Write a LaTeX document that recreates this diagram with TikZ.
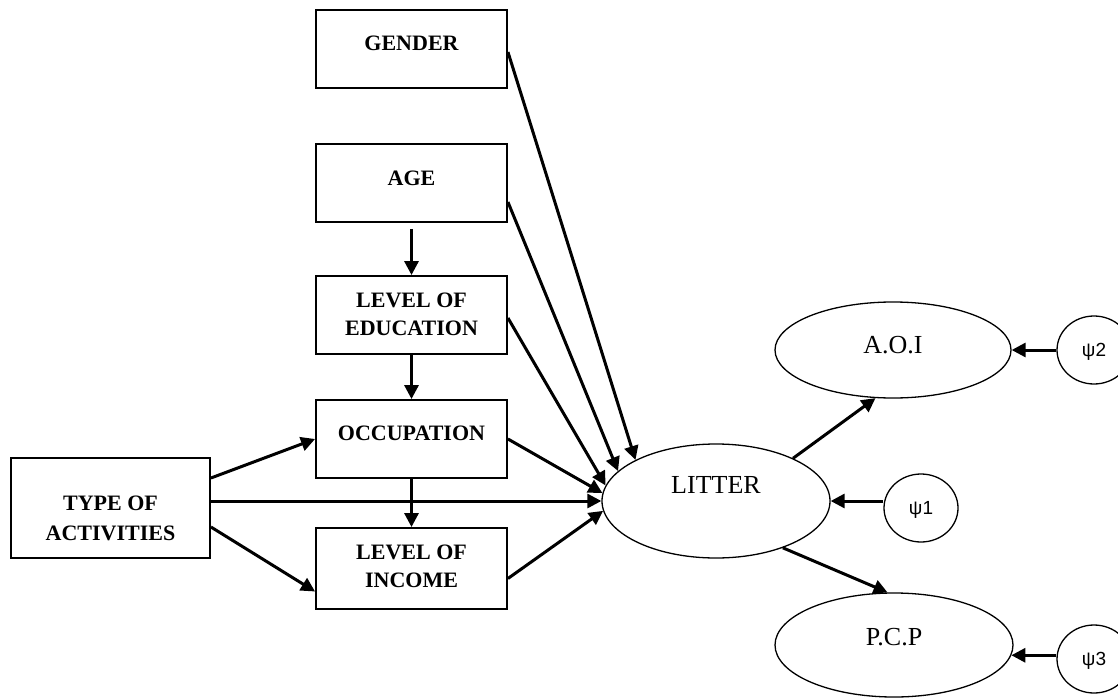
\documentclass[tikz,border=0pt]{standalone}
\usepackage{fontspec}
\setmainfont{Liberation Serif}
\newfontfamily\psifont{Liberation Sans}
\usetikzlibrary{arrows.meta,shapes.geometric,calc}
\begin{document}
\begin{tikzpicture}[x=1pt,y=-1pt,
  box/.style={draw, line width=1.9pt, minimum width=191pt, minimum height=78pt, inner sep=0pt},
  btext/.style={font=\fontsize{22}{28}\selectfont\bfseries, align=center, inner sep=0pt},
  ell/.style={draw, ellipse, line width=1.3pt, inner sep=0pt},
  etext/.style={font=\fontsize{26}{30}\selectfont, inner sep=0pt},
  err/.style={draw, ellipse, line width=1.3pt, minimum width=74pt, minimum height=68pt, inner sep=0pt},
  ptext/.style={font=\psifont\fontsize{19}{22}\selectfont, inner sep=0pt},
  arr/.style={-{Triangle[length=14pt,width=14pt]}, line width=3pt},
]
\useasboundingbox[fill=white] (0,0) rectangle (1118,698);

% boxes
\node[box] (gender) at (411.5,49) {};
\node[box] (age) at (411.5,183) {};
\node[box] (edu) at (411.5,315) {};
\node[box] (occ) at (411.5,439) {};
\node[box, minimum height=81pt] (inc) at (411.5,568.5) {};
\node[box, minimum width=199pt, minimum height=100pt] (type) at (110.5,508) {};

\node[btext] (tgender) at (411.5,43) {GENDER};
\node[btext] (tage) at (411.5,178) {AGE};
\node[btext] (tedu) at (411.5,314) {LEVEL OF\\EDUCATION};
\node[btext] (tocc) at (411.5,433) {OCCUPATION};
\node[btext] (tinc) at (411.5,566) {LEVEL OF\\INCOME};
\node[btext, font=\fontsize{22}{30}\selectfont\bfseries] (ttype) at (110.5,518) {TYPE OF\\ACTIVITIES};

% ellipses
\node[ell, minimum width=228pt, minimum height=114pt] (litter) at (716,501) {};
\node[ell, minimum width=236pt, minimum height=96pt] (aoi) at (893,350) {};
\node[ell, minimum width=238pt, minimum height=104pt] (pcp) at (894,645) {};
\node[etext] (tlitter) at (716,485) {LITTER};
\node[etext] (taoi) at (893,345) {A.O.I};
\node[etext] (tpcp) at (894,637) {P.C.P};

% error terms
\node[err] (psi1) at (921,508) {};
\node[err] (psi2) at (1094,350) {};
\node[err] (psi3) at (1094,659) {};
\node[ptext] (tpsi1) at (921,510) {ψ1};
\node[ptext] (tpsi2) at (1094,352) {ψ2};
\node[ptext] (tpsi3) at (1094,661) {ψ3};

% vertical chain
\draw[arr, shorten <=6pt] (age.south) -- (edu.north);
\draw[arr] (edu.south) -- (occ.north);
\draw[arr] (occ.south) -- (inc.north);

% type of activities
\draw[arr] ([yshift=30pt]type.east) -- (occ.west);
\draw[arr] ([yshift=-19pt]type.east) -- ([yshift=-23pt]inc.west);
\draw[arr] (type.east |- litter.west) -- (litter.west);

% into litter
\draw[arr] ([yshift=-3pt]gender.east) -- (litter.153.2);
\draw[arr] ([yshift=-19pt]age.east) -- (litter.163.5);
\draw[arr] ([yshift=-3pt]edu.east) -- (litter.172);
\draw[arr] (occ.east) -- (litter.176);
\draw[arr] ([yshift=-10pt]inc.east) -- (litter.185.5);

% out of litter
\draw[arr] (litter.29.2) -- (aoi.250.2);
\draw[arr] (litter.325) -- (pcp.97.5);

% errors
\draw[arr] (psi1.west |- litter.east) -- (litter.east);
\draw[arr] (psi2.west) -- (aoi.east);
\draw[arr] (psi3.west |- pcp.355) -- (pcp.355);
\end{tikzpicture}
\end{document}
